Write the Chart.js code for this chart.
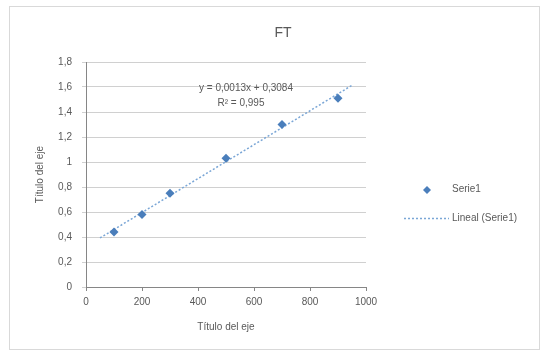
<!DOCTYPE html>
<html>
<head>
<meta charset="utf-8">
<script src="https://cdn.jsdelivr.net/npm/chart.js@4"></script>
<style>
  html, body { margin: 0; padding: 0; background: #fff; }
  #wrap { width: 544px; height: 354px; }
</style>
</head>
<body>
<div id="wrap"><canvas id="ft"></canvas></div>
<script>
const chartTitle = 'FT';
const xValues = [100, 200, 300, 500, 700, 900];
const yValues = [0.44, 0.58, 0.75, 1.03, 1.30, 1.51];
const trendRange = [50, 950]; // extent of trendline as seen
const seriesName = 'Serie1';
const trendName = 'Lineal (Serie1)';
const equationText = ['y = 0,0013x + 0,3084', 'R² = 0,995'];
const xTitle = 'Título del eje';
const yTitle = 'Título del eje';
const xTicks = [0, 200, 400, 600, 800, 1000];
const yTicks = [0, 0.2, 0.4, 0.6, 0.8, 1, 1.2, 1.4, 1.6, 1.8];

// least squares fit, like excel's linear trendline
const n = xValues.length;
const mx = xValues.reduce((a, b) => a + b, 0) / n;
const my = yValues.reduce((a, b) => a + b, 0) / n;
let sxy = 0, sxx = 0;
xValues.forEach((x, i) => { sxy += (x - mx) * (yValues[i] - my); sxx += (x - mx) * (x - mx); });
const slope = sxy / sxx;
const intercept = my - slope * mx;

const font = 'Liberation Sans';
const txt = '#595959';
const blue = '#4a7ebb';

// title, legend, equation and outer frame
const decor = {
  id: 'decor',
  beforeDraw(chart) {
    const ctx = chart.ctx;
    ctx.save();
    ctx.strokeStyle = '#d9d9d9';
    ctx.lineWidth = 1;
    ctx.strokeRect(9.5, 6.5, 530, 343);
    ctx.restore();
  },
  afterDraw(chart) {
    const ctx = chart.ctx;
    ctx.save();
    ctx.fillStyle = txt;
    ctx.textBaseline = 'middle';
    ctx.textAlign = 'center';
    ctx.font = '14px ' + font;
    ctx.fillText(chartTitle, 283, 33);

    ctx.font = '10px ' + font;
    ctx.fillText(equationText[0], 246, 88);
    ctx.fillText(equationText[1], 241, 103);

    // legend
    ctx.textAlign = 'left';
    ctx.fillText(seriesName, 452, 189);
    ctx.fillText(trendName, 452, 218);
    ctx.fillStyle = blue;
    ctx.beginPath();
    ctx.moveTo(427, 186); ctx.lineTo(431, 190); ctx.lineTo(427, 194); ctx.lineTo(423, 190);
    ctx.closePath();
    ctx.fill();
    ctx.strokeStyle = '#7aa6d6';
    ctx.lineWidth = 1.5;
    ctx.setLineDash([2, 2]);
    ctx.beginPath();
    ctx.moveTo(404, 218.5); ctx.lineTo(449, 218.5);
    ctx.stroke();
    ctx.restore();
  }
};

new Chart(document.getElementById('ft'), {
  type: 'scatter',
  data: {
    datasets: [{
      label: seriesName,
      data: xValues.map((x, i) => ({ x: x, y: yValues[i] })),
      pointStyle: 'rectRot',
      pointRadius: 4.5,
      backgroundColor: blue,
      borderColor: blue,
      borderWidth: 0,
      order: 1
    }, {
      label: trendName,
      type: 'line',
      data: trendRange.map(x => ({ x: x, y: intercept + slope * x })),
      borderColor: '#7aa6d6',
      borderWidth: 1.5,
      borderDash: [2, 2],
      pointRadius: 0,
      fill: false,
      order: 2
    }]
  },
  options: {
    responsive: true,
    maintainAspectRatio: false,
    animation: false,
    layout: { padding: { top: 62, right: 178, bottom: 0, left: 0 } },
    plugins: {
      legend: { display: false },
      title: { display: false },
      tooltip: { enabled: false }
    },
    scales: {
      x: {
        type: 'linear',
        min: 0,
        max: 1000,
        afterFit: s => { s.height = 67; },
        afterBuildTicks: s => { s.ticks = xTicks.map(v => ({ value: v })); },
        ticks: {
          color: txt,
          font: { family: font, size: 10 },
          padding: 5,
          callback: v => String(v)
        },
        grid: { drawOnChartArea: false, drawTicks: true, tickLength: 4, color: '#868686' },
        border: { color: '#868686' },
        title: { display: true, text: xTitle, color: txt, font: { family: font, size: 10 }, padding: { top: 4, bottom: 21 } }
      },
      y: {
        min: 0,
        max: 1.8,
        afterFit: s => { s.width = 86; },
        afterBuildTicks: s => { s.ticks = yTicks.map(v => ({ value: v })); },
        ticks: {
          color: txt,
          font: { family: font, size: 10 },
          padding: 10,
          callback: v => String(Math.round(v * 10) / 10).replace('.', ',')
        },
        grid: { color: '#d0d0d0', tickLength: 4 },
        border: { color: '#868686' },
        title: { display: true, text: yTitle, color: txt, font: { family: font, size: 10 }, padding: { top: 34, bottom: 4 } }
      }
    }
  },
  plugins: [decor]
});
</script>
</body>
</html>
